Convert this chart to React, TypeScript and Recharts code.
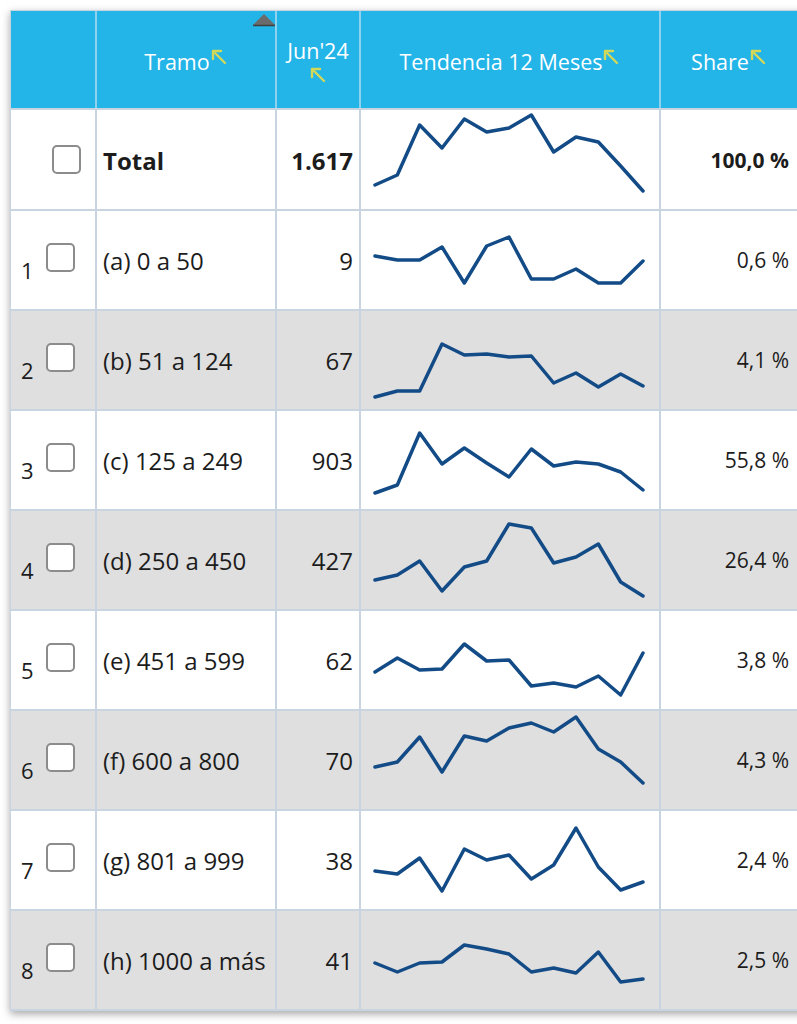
import React from 'react';
import { LineChart, Line, XAxis, YAxis } from 'recharts';

const months = ["Jun'23", "Jul'23", "Ago'23", "Sep'23", "Oct'23", "Nov'23", "Dic'23", "Ene'24", "Feb'24", "Mar'24", "Abr'24", "May'24", "Jun'24"];
const rowNumbers = ['', '1', '2', '3', '4', '5', '6', '7', '8'];
const rowLabels = ['Total', '(a) 0 a 50', '(b) 51 a 124', '(c) 125 a 249', '(d) 250 a 450', '(e) 451 a 599', '(f) 600 a 800', '(g) 801 a 999', '(h) 1000 a más'];
const jun24Values = ['1.617', '9', '67', '903', '427', '62', '70', '38', '41'];
const shareValues = ['100,0 %', '0,6 %', '4,1 %', '55,8 %', '26,4 %', '3,8 %', '4,3 %', '2,4 %', '2,5 %'];

// trend level (0-100 index) per month, read from the sparklines
const trendTotal = [25, 35, 85, 62, 91, 78, 82, 95, 58, 73, 68, 44, 19];
const trendA = [54, 50, 50, 63, 27, 64, 73, 31, 31, 41, 27, 27, 49];
const trendB = [13, 19, 19, 66, 55, 56, 53, 54, 27, 37, 23, 36, 24];
const trendC = [17, 25, 77, 46, 62, 47, 33, 61, 44, 48, 46, 38, 20];
const trendD = [30, 35, 49, 19, 43, 49, 86, 82, 47, 53, 66, 28, 14];
const trendE = [38, 52, 40, 41, 66, 49, 50, 24, 27, 23, 34, 15, 57];
const trendF = [43, 48, 73, 38, 74, 69, 82, 87, 78, 93, 61, 48, 27];
const trendG = [39, 36, 52, 19, 61, 50, 55, 31, 45, 82, 43, 20, 28];
const trendH = [47, 38, 47, 48, 65, 61, 56, 38, 42, 37, 58, 28, 31];
const trends = [trendTotal, trendA, trendB, trendC, trendD, trendE, trendF, trendG, trendH];

const FONT = '"Open Sans", "DejaVu Sans", sans-serif';
const BORDER = '#c8d4df';
const HEADER_BORDER = '#8fd2ef';
const HEADER_BG = '#23b4e8';
const TEXT = '#1c1c1c';

const colX = [11, 97, 277, 361, 661];
const lineX = [95, 275, 359, 659];

const Arrow = ({ style }: { style?: React.CSSProperties }) => (
  <svg width={18} height={18} viewBox="0 0 18 18" style={style}>
    <path d="M15 15 L4 4" stroke="#d2d85a" strokeWidth={2.4} fill="none" strokeLinecap="round" />
    <path d="M3 11 L3 3 L11 3" stroke="#d2d85a" strokeWidth={2.4} fill="none" strokeLinecap="round" strokeLinejoin="round" />
  </svg>
);

const Checkbox = ({ left, top }: { left: number; top: number }) => (
  <div
    style={{
      position: 'absolute',
      left,
      top,
      width: 29,
      height: 29,
      boxSizing: 'border-box',
      border: '2px solid #8c8c8c',
      borderRadius: 5,
      background: '#fff',
    }}
  />
);

const Spark = ({ series }: { series: number[] }) => {
  const data = months.map((m, i) => ({ m, v: series[i] }));
  return (
    <LineChart width={298} height={100} data={data} margin={{ top: 0, right: 16, bottom: 0, left: 14 }}>
      <XAxis dataKey="m" hide />
      <YAxis hide domain={[0, 100]} />
      <Line
        type="linear"
        dataKey="v"
        stroke="#134b87"
        strokeWidth={3.5}
        dot={false}
        isAnimationActive={false}
        strokeLinejoin="round"
        strokeLinecap="round"
      />
    </LineChart>
  );
};

export default function App() {
  return (
    <div
      style={{
        position: 'absolute',
        left: 0,
        top: 0,
        width: 797,
        height: 1024,
        overflow: 'hidden',
        background: '#ffffff',
        fontFamily: FONT,
        color: TEXT,
      }}
    >
      {/* table box with shadow */}
      <div
        style={{
          position: 'absolute',
          left: 10,
          top: 10,
          width: 820,
          height: 1001,
          boxSizing: 'border-box',
          border: `1px solid ${BORDER}`,
          background: '#fff',
          boxShadow: '0 3px 8px rgba(0,0,0,0.35)',
        }}
      />
      {/* header */}
      <div style={{ position: 'absolute', left: 11, top: 11, width: 800, height: 98, background: HEADER_BG }} />
      {/* rows */}
      {rowLabels.map((label, i) => {
        const top = 110 + 100 * i;
        return (
          <div
            key={`bg${i}`}
            style={{
              position: 'absolute',
              left: 11,
              top,
              width: 800,
              height: 100,
              background: i > 0 && i % 2 === 0 ? '#dfdfdf' : '#ffffff',
            }}
          />
        );
      })}
      {/* horizontal lines */}
      <div style={{ position: 'absolute', left: 11, top: 108, width: 800, height: 2, background: BORDER }} />
      {rowLabels.map((_, i) => (
        <div key={`h${i}`} style={{ position: 'absolute', left: 11, top: 209 + 100 * i, width: 800, height: 2, background: BORDER }} />
      ))}
      {/* vertical lines */}
      {lineX.map((x, i) => (
        <React.Fragment key={`v${i}`}>
          <div style={{ position: 'absolute', left: x, top: 11, width: 2, height: 97, background: HEADER_BORDER }} />
          <div style={{ position: 'absolute', left: x, top: 110, width: 2, height: 900, background: BORDER }} />
        </React.Fragment>
      ))}

      {/* header texts */}
      <div
        style={{
          position: 'absolute',
          left: colX[1],
          top: 12,
          width: lineX[1] - colX[1],
          height: 98,
          display: 'flex',
          alignItems: 'center',
          justifyContent: 'center',
          color: '#fff',
          fontSize: 21.5,
        }}
      >
        <span>Tramo</span>
        <Arrow style={{ marginTop: -8 }} />
      </div>
      <svg width={24} height={14} style={{ position: 'absolute', left: 252, top: 13 }}>
        <polygon points="1,12 12,1 23,12" fill="#6b6b6b" />
        <line x1={1} y1={12.5} x2={23} y2={12.5} stroke="#3f3f3f" strokeWidth={1.5} />
      </svg>
      <div
        style={{
          position: 'absolute',
          left: colX[2],
          top: 37,
          width: lineX[2] - colX[2],
          textAlign: 'center',
          color: '#fff',
          fontSize: 21.5,
          lineHeight: '28px',
        }}
      >
        Jun'24
        <div style={{ display: 'flex', justifyContent: 'center', marginTop: 1 }}>
          <Arrow />
        </div>
      </div>
      <div
        style={{
          position: 'absolute',
          left: colX[3],
          top: 12,
          width: lineX[3] - colX[3],
          height: 98,
          display: 'flex',
          alignItems: 'center',
          justifyContent: 'center',
          color: '#fff',
          fontSize: 21.5,
        }}
      >
        <span>Tendencia 12 Meses</span>
        <Arrow style={{ marginTop: -8 }} />
      </div>
      <div
        style={{
          position: 'absolute',
          left: colX[4],
          top: 12,
          width: 136,
          height: 98,
          display: 'flex',
          alignItems: 'center',
          justifyContent: 'center',
          color: '#fff',
          fontSize: 21.5,
        }}
      >
        <span>Share</span>
        <Arrow style={{ marginTop: -8 }} />
      </div>

      {/* body */}
      {rowLabels.map((label, i) => {
        const top = 110 + 100 * i;
        const bold = i === 0;
        return (
          <React.Fragment key={`r${i}`}>
            {rowNumbers[i] && (
              <div style={{ position: 'absolute', left: 21, top: top + 47, fontSize: 22, lineHeight: '26px' }}>
                {rowNumbers[i]}
              </div>
            )}
            <Checkbox left={i === 0 ? 52 : 46} top={i === 0 ? top + 35 : top + 33} />
            <div
              style={{
                position: 'absolute',
                left: 103,
                top,
                height: 100,
                display: 'flex',
                alignItems: 'center',
                fontSize: 24,
                fontWeight: bold ? 700 : 400,
                whiteSpace: 'nowrap',
              }}
            >
              {label}
            </div>
            <div
              style={{
                position: 'absolute',
                left: colX[2],
                top,
                width: 353 - colX[2],
                height: 100,
                display: 'flex',
                alignItems: 'center',
                justifyContent: 'flex-end',
                fontSize: 24,
                fontWeight: bold ? 700 : 400,
              }}
            >
              {jun24Values[i]}
            </div>
            <div style={{ position: 'absolute', left: colX[3], top }}>
              <Spark series={trends[i]} />
            </div>
            <div
              style={{
                position: 'absolute',
                left: colX[4],
                top,
                width: 789 - colX[4],
                height: 100,
                display: 'flex',
                alignItems: 'center',
                justifyContent: 'flex-end',
                fontSize: 21,
                fontWeight: bold ? 700 : 400,
                whiteSpace: 'nowrap',
              }}
            >
              {shareValues[i]}
            </div>
          </React.Fragment>
        );
      })}
    </div>
  );
}
